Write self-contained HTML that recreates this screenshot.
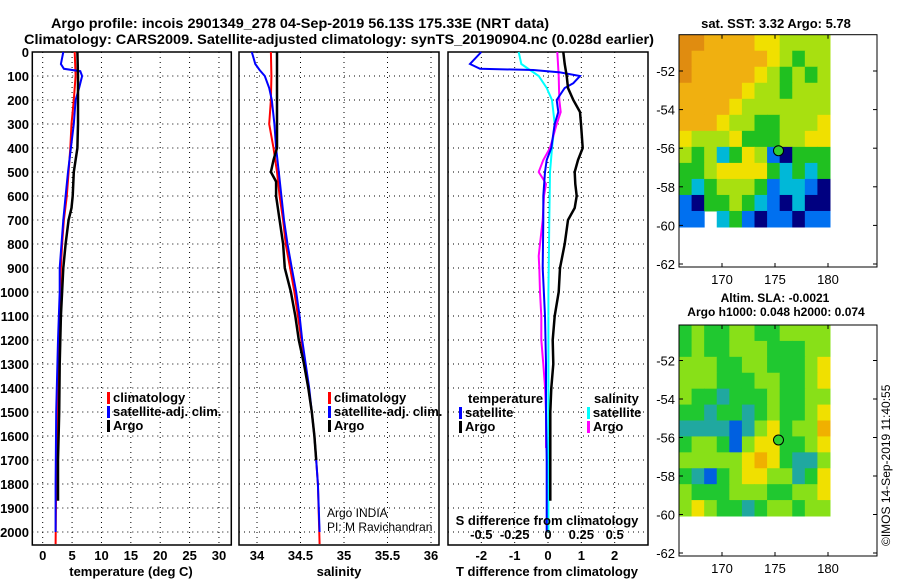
<!DOCTYPE html>
<html><head><meta charset="utf-8"><style>
html,body{margin:0;padding:0;background:#fff;}
svg{display:block;font-family:"Liberation Sans",sans-serif;}
</style></head><body>
<svg id="fig" width="900" height="580" viewBox="0 0 900 580">
<text x="300" y="28" font-size="14" font-weight="bold" text-anchor="middle" textLength="498" lengthAdjust="spacingAndGlyphs">Argo profile: incois 2901349_278 04-Sep-2019 56.13S 175.33E (NRT data)</text>
<text x="339" y="44" font-size="14" font-weight="bold" text-anchor="middle" textLength="630" lengthAdjust="spacingAndGlyphs">Climatology: CARS2009. Satellite-adjusted climatology: synTS_20190904.nc (0.028d earlier)</text>
</svg>
<script>
// ---- profile data (depth in m) ----
const tDepthArgo=[0,100,200,300,400,450,500,600,650,700,800,900,1000,1100,1200,1300,1500,1700,1870];
const tArgo=[5.9,6.0,6.0,6.0,5.9,5.6,5.3,5.1,4.9,4.4,3.9,3.5,3.3,3.1,3.0,2.9,2.8,2.6,2.6];
const tDepthClim=[0,100,200,300,400,500,600,700,800,900,1000,1200,1500,1800,2050];
const tClim=[5.45,5.6,5.3,4.9,4.7,4.4,4.1,3.6,3.3,3.1,3.0,2.75,2.5,2.3,2.2];
const tDepthSat=[0,50,70,80,100,150,200,300,400,500,600,700,800,900,1000,1200,1500,1800,2000];
const tSat=[3.5,3.1,3.6,6.4,6.7,6.2,5.6,5.3,4.8,4.3,3.9,3.5,3.2,2.9,2.9,2.6,2.3,2.2,2.2];

const sDepthArgo=[0,400,450,500,540,600,700,800,900,1000,1100,1200,1300,1400,1500,1600,1700];
const sArgo=[34.23,34.23,34.19,34.16,34.22,34.22,34.26,34.30,34.32,34.39,34.44,34.48,34.54,34.59,34.63,34.66,34.68];
const sDepthClim=[0,100,200,300,400,500,600,700,800,900,1000,1100,1200,1300,1400,1500,1600,1700,1800,2050];
const sClim=[34.16,34.165,34.16,34.14,34.19,34.23,34.26,34.30,34.33,34.38,34.43,34.47,34.51,34.55,34.59,34.63,34.66,34.68,34.70,34.72];
const sDepthSat=[0,50,75,100,150,200,300,400,500,600,700,800,900,1000,1100,1200,1300,1400,1500,1600,1700,1800,2000];
const sSat=[33.94,33.98,34.03,34.09,34.14,34.17,34.20,34.22,34.25,34.28,34.31,34.35,34.40,34.45,34.49,34.52,34.56,34.60,34.63,34.66,34.68,34.70,34.72];

const dDepthTArgo=[0,50,100,150,200,250,300,400,450,500,550,600,650,700,800,900,1000,1100,1200,1300,1400,1500,1600,1870];
const dTArgo=[0.46,0.5,0.56,0.6,0.76,0.96,0.99,1.04,0.9,0.8,0.82,0.86,0.8,0.6,0.5,0.36,0.32,0.2,0.14,0.16,0.1,0.07,0.07,0.07];
const dDepthTSat=[0,50,70,75,85,100,130,150,200,250,300,400,450,500,600,700,900,1100,1300,1500,1700,2000];
const dTSat=[-2.0,-2.34,-2.04,-0.44,0.36,0.96,0.76,0.5,0.26,0.31,0.2,0.1,-0.04,-0.09,-0.14,-0.14,-0.16,-0.09,-0.06,-0.06,-0.04,-0.04];
const dDepthSSat=[0,50,75,100,150,200,300,400,500,700,1000,1500,2000];
const dSSat=[-0.22,-0.2,-0.135,-0.07,-0.01,0.03,0.05,0.03,0.015,0.01,0.003,0.003,0.003];
const dDepthSArgo=[0,100,200,250,300,400,450,500,530,550,600,700,800,850,900,1000,1100,1200,1300,1400,1500,1650];
const dSArgo=[0.07,0.08,0.085,0.095,0.065,0.015,-0.035,-0.07,-0.035,-0.015,-0.03,-0.04,-0.06,-0.07,-0.065,-0.06,-0.05,-0.05,-0.035,-0.022,-0.015,-0.015];

const depthTicks=[0,100,200,300,400,500,600,700,800,900,1000,1100,1200,1300,1400,1500,1600,1700,1800,1900,2000];
const tTicks=[0,5,10,15,20,25,30];
const sTicks=[34,34.5,35,35.5,36];
const sTickLabels=["34","34.5","35","35.5","36"];
const dTTicks=[-2,-1,0,1,2];
const dSTicks=[-0.5,-0.25,0,0.25,0.5];
const dSTickLabels=["-0.5","-0.25","0","0.25","0.5"];

// ---- map data (colour classes per cell, -1 = no data) ----
const sstRows=[
[7,7,6,6,6,6,5,5,4,4,4,4],[7,6,6,6,6,6,6,5,4,3,4,4],[7,6,6,6,6,6,5,4,3,4,3,4],
[6,6,6,6,6,5,4,4,3,4,4,4],[6,6,6,6,5,4,4,4,4,4,4,4],[6,6,6,5,4,4,3,3,4,4,4,5],
[5,4,4,4,5,3,3,3,4,4,5,5],[4,3,4,2,3,5,4,1,0,3,3,3],[3,3,4,5,5,5,5,3,2,3,2,3],
[3,2,3,4,4,4,3,1,2,2,1,0],[1,0,3,3,4,3,2,1,0,2,0,0],[1,1,-1,2,3,1,0,1,1,0,1,1]];
const slaRows=[
[3,4,3,3,4,4,3,3,4,4,4,4],[3,4,3,3,4,4,4,3,3,3,4,4],[4,4,4,3,3,4,4,3,3,3,4,5],
[4,4,4,3,3,3,4,4,3,3,4,5],[4,3,3,2,3,3,3,4,3,3,4,4],[3,3,2,3,3,2,3,4,3,3,4,5],
[2,2,2,2,1,2,4,5,3,4,4,6],[3,4,4,3,1,4,5,5,3,3,4,5],[4,4,4,4,4,5,6,5,3,2,2,4],
[3,2,1,3,4,5,5,4,4,2,3,5],[4,3,3,3,4,4,4,3,3,4,4,5],[4,5,4,3,3,2,3,4,4,3,4,4]];
const lonTicks=[170,175,180];
const latTicks=[-52,-54,-56,-58,-60,-62];
const argoLon=175.33, argoLat=-56.13;

const NS="http://www.w3.org/2000/svg";
const svg=document.getElementById('fig');
function mk(tag,attrs,parent){const e=document.createElementNS(NS,tag);for(const k in attrs)e.setAttribute(k,attrs[k]);(parent||svg).appendChild(e);return e;}
function txt(x,y,s,size,weight,anchor,parent){const t=mk('text',{x:x,y:y,'font-size':size,'font-weight':weight||'normal','text-anchor':anchor||'start'},parent);t.textContent=s;return t;}

const TOP=52,BOT=545;
const yD=d=>TOP+d*0.24;

function panel(name,x0,x1,vmin,vmax,ticks,labels,showDepth){
  const g=mk('g',{});
  
  
  const xs=v=>x0+(v-vmin)/(vmax-vmin)*(x1-x0);
  depthTicks.forEach(d=>{
    const l=mk('line',{x1:x0,x2:x1,y1:yD(d),y2:yD(d),stroke:'#000','stroke-width':1,'stroke-dasharray':'1,4'},g);
    
    if(showDepth){const t=txt(29,yD(d)+5,String(d),13,'bold','end',g);
      }
  });
  ticks.forEach((v,i)=>{
    const l=mk('line',{x1:xs(v),x2:xs(v),y1:TOP,y2:BOT,stroke:'#000','stroke-width':1,'stroke-dasharray':'1,4'},g);
    
    const t=txt(xs(v),560,labels[i],13,'bold','middle',g);
    
  });
  const r=mk('rect',{x:x0,y:TOP,width:x1-x0,height:BOT-TOP,fill:'none',stroke:'#000','stroke-width':1.5},g);
  
  return {g,xs};
}
function line(p,depths,vals,color,w,name){
  const pts=depths.map((d,i)=>p.xs(vals[i]).toFixed(1)+','+yD(d).toFixed(1)).join(' ');
  const e=mk('polyline',{points:pts,fill:'none',stroke:color,'stroke-width':w,'stroke-linejoin':'miter'},p.g);
  
}
function legend(g,x,y,color,label,name){
  const r=mk('rect',{x:x,y:y-10,width:3,height:12,fill:color},g);
  
  const t=txt(x+6,y,label,13,'bold','start',g);
  
}

// Panel 1: temperature
const p1=panel('temperature-panel',32.3,231.3,-1.77,32.1,tTicks,tTicks.map(String),true);
line(p1,tDepthClim,tClim,'#f00',2,'temperature-climatology-line');
line(p1,tDepthSat,tSat,'#00f',2,'temperature-satellite-line');
line(p1,tDepthArgo,tArgo,'#000',2.5,'temperature-argo-line');
legend(p1.g,107,402,'#f00','climatology','legend-climatology');
legend(p1.g,107,416,'#00f','satellite-adj. clim.','legend-satellite-adj');
legend(p1.g,107,430,'#000','Argo','legend-argo');
let t=txt(131,576,'temperature (deg C)',13,'bold','middle');


// Panel 2: salinity
const p2=panel('salinity-panel',239,439,33.793,36.092,sTicks,sTickLabels,false);
line(p2,sDepthClim,sClim,'#f00',2,'salinity-climatology-line');
line(p2,sDepthSat,sSat,'#00f',2,'salinity-satellite-line');
line(p2,sDepthArgo,sArgo,'#000',2.5,'salinity-argo-line');
legend(p2.g,328,402,'#f00','climatology','legend-climatology-s');
legend(p2.g,328,416,'#00f','satellite-adj. clim.','legend-satellite-adj-s');
legend(p2.g,328,430,'#000','Argo','legend-argo-s');
t=txt(327,517,'Argo INDIA',12,'normal','start',p2.g);

t=txt(327,531,'PI: M Ravichandran',12,'normal','start',p2.g);

t=txt(339,576,'salinity',13,'bold','middle');


// Panel 3: differences
const p3=panel('difference-panel',448,648,-3,3,dTTicks,dTTicks.map(String),false);
const p3s={g:p3.g,xs:v=>548+v*133.3};
line(p3s,dDepthSSat,dSSat,'#0ff',2,'salinity-diff-satellite-line');
line(p3s,dDepthSArgo,dSArgo,'#f0f',2,'salinity-diff-argo-line');
line(p3,dDepthTSat,dTSat,'#00f',2,'temperature-diff-satellite-line');
line(p3,dDepthTArgo,dTArgo,'#000',2.5,'temperature-diff-argo-line');
t=txt(468,403,'temperature',13,'bold','start',p3.g);

legend(p3.g,459,417,'#00f','satellite','legend-t-satellite');
legend(p3.g,459,431,'#000','Argo','legend-t-argo');
t=txt(594,403,'salinity',13,'bold','start',p3.g);

legend(p3.g,587,417,'#0ff','satellite','legend-s-satellite');
legend(p3.g,587,431,'#f0f','Argo','legend-s-argo');
t=txt(547,525,'S difference from climatology',13,'bold','middle',p3.g);

dSTicks.forEach((v,i)=>{const e=txt(p3s.xs(v),539,dSTickLabels[i],13,'bold','middle',p3.g);
  });
t=txt(547,576,'T difference from climatology',13,'bold','middle');


// ---- maps ----
const sstColors=['#000080','#0070f0','#00b8d8','#20c020','#a8e010','#f0e000','#f0b010','#e08c10'];
const slaColors=['#001080','#0060e0','#20a8a0','#20c830','#88e018','#f0e000','#f0b000'];
function map(name,top,bot,lat52,lat62,rows,colors,imgBottom){
  const g=mk('g',{});
  
  const x0=679,x1=877,imgRight=830;
  const lonX=l=>722+(l-170)*10.6;
  const latY=la=>lat52+(-52-la)*(lat62-lat52)/10;
  const nr=rows.length,nc=rows[0].length,cw=(imgRight-x0)/nc,ch=(imgBottom-top)/nr;
  rows.forEach((row,ri)=>row.forEach((v,ci)=>{
    if(v<0)return;
    const c=mk('rect',{x:x0+ci*cw,y:top+ri*ch,width:cw+0.5,height:ch+0.5,fill:colors[v]},g);
    
  }));
  const f=mk('rect',{x:x0,y:top,width:x1-x0,height:bot-top,fill:'none',stroke:'#000','stroke-width':1},g);
  
  latTicks.forEach(la=>{
    const y=latY(la);
    mk('line',{x1:x0,x2:x0+4,y1:y,y2:y,stroke:'#000'},g);
    mk('line',{x1:x1-4,x2:x1,y1:y,y2:y,stroke:'#000'},g);
    const e=txt(675,y+5,String(la),13,'normal','end',g);
    
  });
  lonTicks.forEach(lo=>{
    const x=lonX(lo);
    mk('line',{x1:x,x2:x,y1:top,y2:top+4,stroke:'#000'},g);
    mk('line',{x1:x,x2:x,y1:bot-4,y2:bot,stroke:'#000'},g);
    const e=txt(x,bot+17,String(lo),13,'normal','middle',g);
    
  });
  const c=mk('circle',{cx:lonX(argoLon),cy:latY(argoLat),r:5,fill:'#30d030',stroke:'#000','stroke-width':1},g);
  
}
map('sst-map',34.7,267,71,264,sstRows,sstColors,227);
map('sla-map',325,556,360.5,553,slaRows,slaColors,516);
t=txt(776,28,'sat. SST: 3.32 Argo: 5.78',13,'bold','middle');

t=txt(775,302,'Altim. SLA: -0.0021',12,'bold','middle');

t=txt(776,316,'Argo h1000: 0.048 h2000: 0.074',12,'bold','middle');

t=txt(0,0,'©IMOS 14-Sep-2019 11:40:55',12,'normal','start');
t.setAttribute('transform','translate(890,546) rotate(-90)');

</script>
</body></html>
